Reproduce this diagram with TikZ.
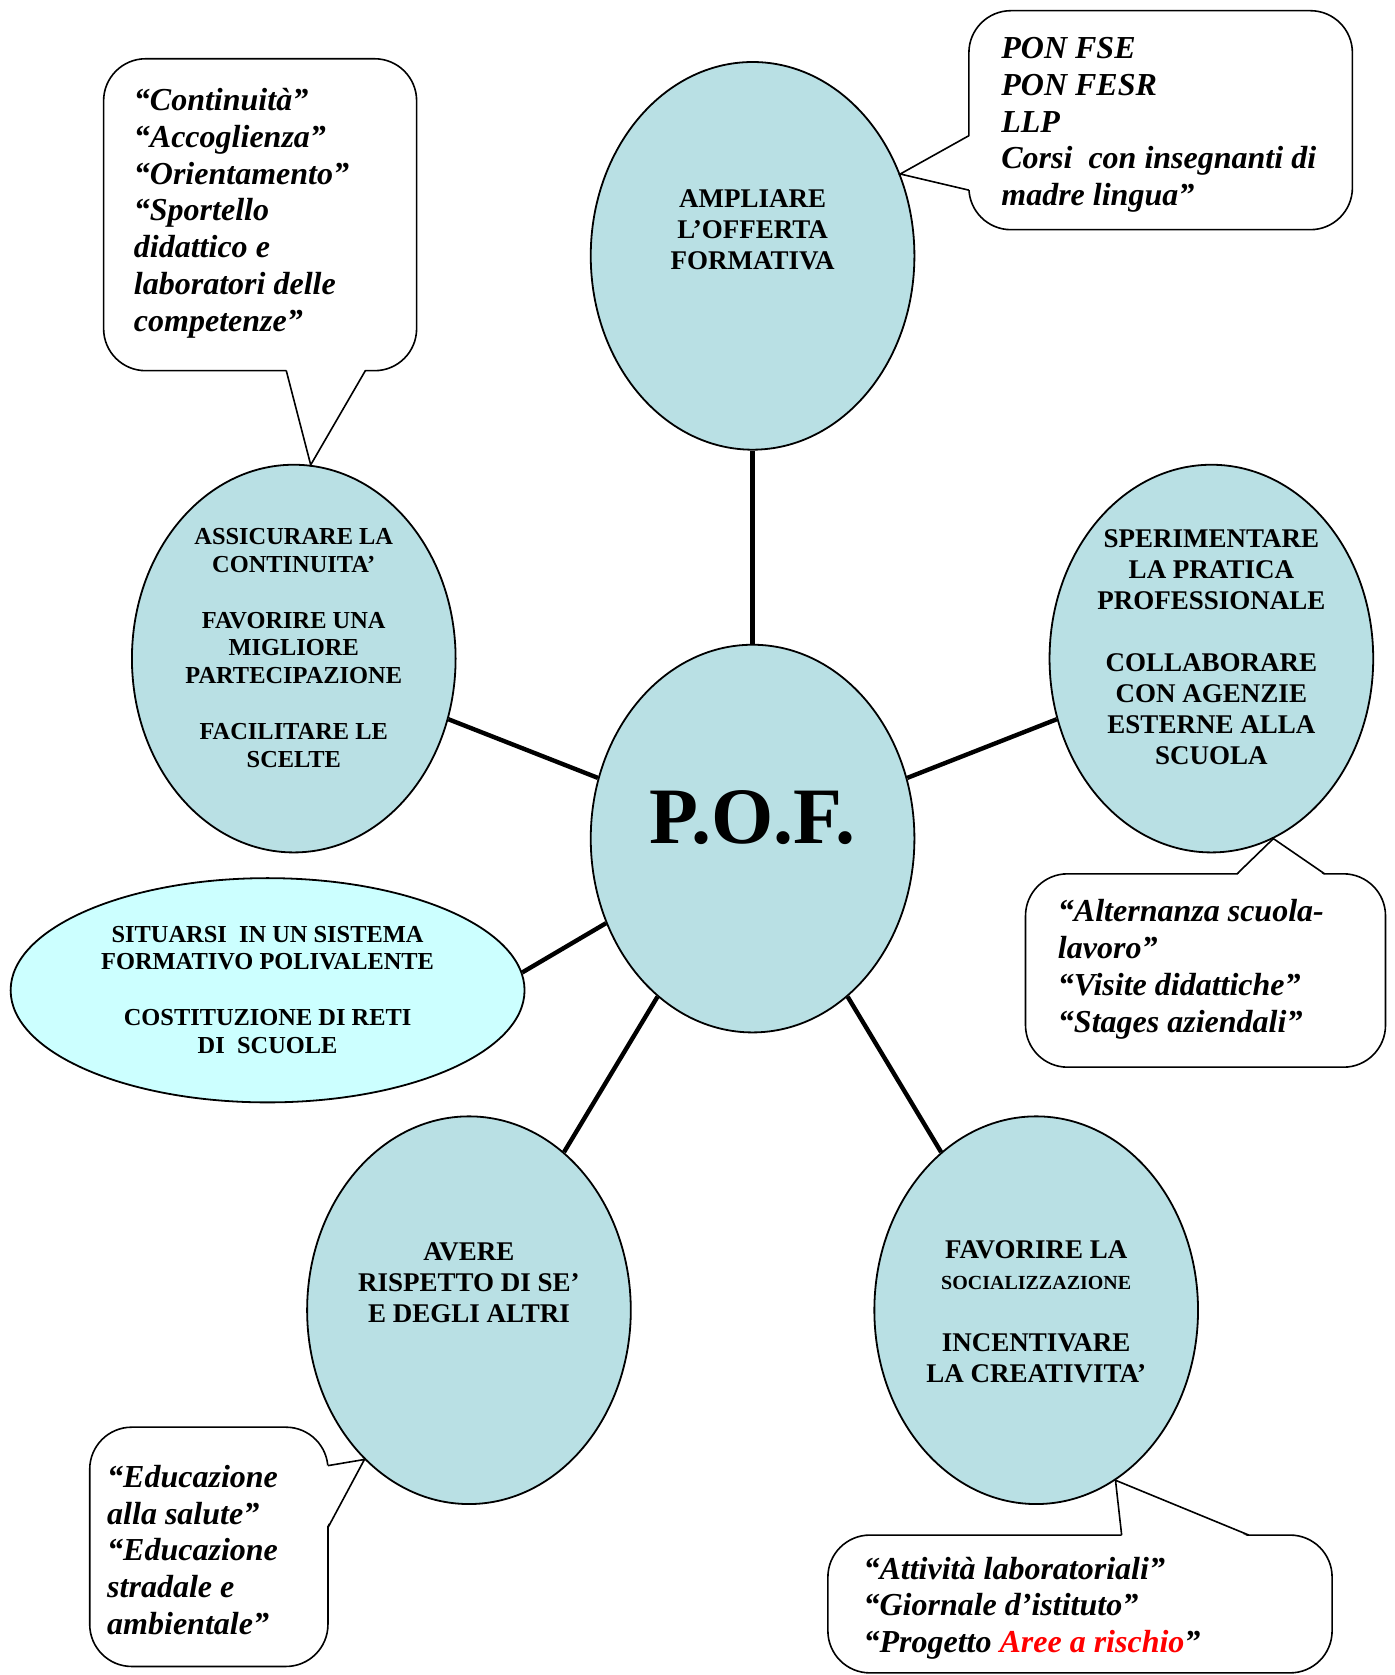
\documentclass[tikz,border=0pt]{standalone}
\usepackage{fontspec}
\setmainfont{Liberation Serif}
\usetikzlibrary{shapes.geometric}
\definecolor{bleu}{HTML}{B9E0E4}
\definecolor{cyanclair}{HTML}{CCFFFF}
\tikzset{
  bulle/.style={ellipse,draw,line width=0.9pt,fill=bleu,minimum width=161.8pt,minimum height=193.8pt,inner sep=0pt},
  grand/.style={align=center,inner sep=0pt,font=\bfseries\fontsize{13.5}{15.5}\selectfont},
  moyen/.style={align=center,inner sep=0pt,font=\bfseries\fontsize{12.2}{13.9}\selectfont},
  idee/.style={align=left,anchor=west,inner sep=0pt,font=\bfseries\itshape\fontsize{16}{18.4}\selectfont},
  rayon/.style={line width=2.2pt},
  cadre/.style={draw,line width=0.8pt,rounded corners=21pt},
  fleche/.style={line width=0.8pt}
}
\begin{document}
\begin{tikzpicture}[x=0.534pt,y=-0.534pt]
\useasboundingbox (0,0) rectangle (1305,1568);
% les ellipses
\node[bulle] (ampliare) at (704.5,239.5) {};
\node[bulle] (pof) at (704.5,785) {};
\node[bulle] (assicurare) at (275,616.5) {};
\node[bulle] (sperimentare) at (1134,616.5) {};
\node[bulle,fill=cyanclair,minimum width=256.9pt,minimum height=112.1pt] (situarsi) at (250.5,927) {};
\node[bulle] (avere) at (439,1226.5) {};
\node[bulle] (favorire) at (970,1226.5) {};
\draw[rayon] (pof) -- (ampliare);
\draw[rayon] (pof) -- (assicurare);
\draw[rayon] (pof) -- (sperimentare);
\draw[rayon] (pof.210) -- (situarsi.4);
\draw[rayon] (pof) -- (avere);
\draw[rayon] (pof) -- (favorire);
% les textes
\node[inner sep=0pt,font=\bfseries\fontsize{40}{44}\selectfont] (pof-t) at (704.5,765) {P.O.F.};
\node[grand] (ampliare-t) at (704.5,215) {AMPLIARE\\L’OFFERTA\\FORMATIVA};
\node[moyen] (assicurare-t) at (275,606.5) {ASSICURARE LA\\CONTINUITA’\\[13.9pt]FAVORIRE UNA\\MIGLIORE\\PARTECIPAZIONE\\[13.9pt]FACILITARE LE\\SCELTE};
\node[grand] (sperimentare-t) at (1134,605.5) {SPERIMENTARE\\LA PRATICA\\PROFESSIONALE\\[15.5pt]COLLABORARE\\CON AGENZIE\\ESTERNE ALLA\\SCUOLA};
\node[moyen] (situarsi-t) at (250.5,926.5) {SITUARSI\ \ IN UN SISTEMA\\FORMATIVO POLIVALENTE\\[13.9pt]COSTITUZIONE DI RETI\\DI\ \ SCUOLE};
\node[grand] (avere-t) at (439,1201) {AVERE\\RISPETTO DI SE’\\E DEGLI ALTRI};
\node[grand] (favorire-t) at (970,1227.5) {FAVORIRE LA\\{\fontsize{10}{12}\selectfont SOCIALIZZAZIONE}\\[15.5pt]INCENTIVARE\\LA CREATIVITA’};
% les bulles
\draw[cadre] (97,55) rectangle (390,347);
\fill[white] (268,345.5) -- (assicurare.85) -- (342,345.5) -- cycle;
\draw[fleche] (268,347) -- (assicurare.85) -- (342,347);
\node[idee] (continuita) at (125,199.5) {“Continuità”\\“Accoglienza”\\“Orientamento”\\“Sportello\\didattico e\\laboratori delle\\competenze”};

\draw[cadre] (907,10) rectangle (1266,215);
\fill[white] (908.5,127) -- (ampliare.29) -- (908.5,178) -- cycle;
\draw[fleche] (907,127) -- (ampliare.29) -- (907,178);
\node[idee] (pon) at (937,117) {PON FSE\\PON FESR\\LLP\\Corsi\ \ con insegnanti di\\madre lingua”};

\draw[cadre] (960,818) rectangle (1297,999);
\fill[white] (1158,819.5) -- (sperimentare.-71) -- (1240,819.5) -- cycle;
\draw[fleche] (1158,818) -- (sperimentare.-71) -- (1240,818);
\node[idee] (alternanza) at (990,907.5) {“Alternanza scuola-\\lavoro”\\“Visite didattiche”\\“Stages aziendali”};

\draw[cadre] (775,1437) rectangle (1247,1566);
\fill[white] (1050,1438.5) -- (favorire.-65) -- (1169,1438.5) -- cycle;
\draw[fleche] (1050,1437) -- (favorire.-65) -- (1169,1437);
\node[idee] (attivita) at (808,1505.5) {“Attività laboratoriali”\\“Giornale d’istituto”\\“Progetto \textcolor{red}{Aree a rischio}”};

\draw[cadre] (84,1336) rectangle (307,1560);
\fill[white] (305.5,1372) -- (avere.235) -- (305.5,1430) -- cycle;
\draw[fleche] (307,1372) -- (avere.235) -- (307,1430);
\node[idee] (educazione) at (100,1451) {“Educazione\\alla salute”\\“Educazione\\stradale e\\ambientale”};
\end{tikzpicture}
\end{document}
